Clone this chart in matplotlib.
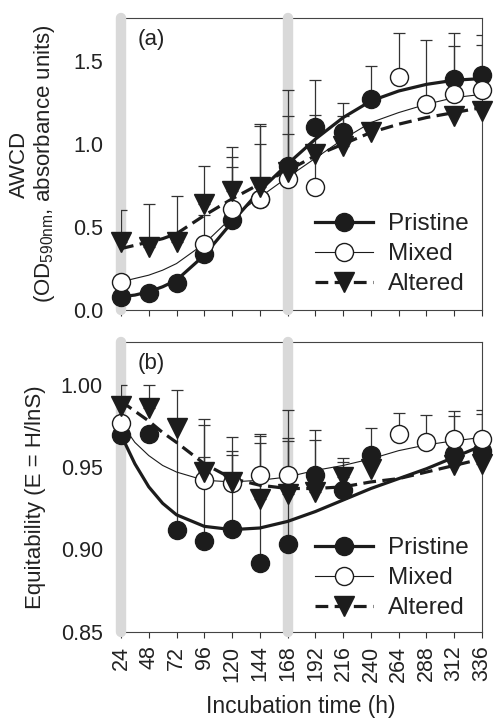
import numpy as np
import matplotlib
matplotlib.use('Agg')
import matplotlib.pyplot as plt
from matplotlib.lines import Line2D

plt.rcParams['font.family'] = ['Liberation Sans', 'DejaVu Sans']
plt.rcParams['font.size'] = 16

nan = np.nan
time_h = [24, 48, 72, 96, 120, 144, 168, 192, 216, 240, 264, 288, 312, 336]
series_names = ['Pristine', 'Mixed', 'Altered']

# Panel (a) AWCD
awcd_pristine = [0.08, 0.10, 0.16, 0.34, 0.54, 0.67, 0.87, 1.10, 1.07, 1.27, nan, nan, 1.395, 1.415]
awcd_mixed = [0.17, nan, nan, 0.40, 0.61, 0.67, 0.79, 0.74, nan, nan, 1.405, 1.24, 1.30, 1.325]
awcd_altered = [0.41, 0.38, 0.41, 0.64, 0.72, 0.74, 0.83, 0.94, 0.99, 1.07, nan, nan, 1.17, 1.20]
awcd_pristine_up = [nan, nan, nan, nan, 0.86, 1.11, 1.325, 1.385, 1.25, 1.47, nan, nan, 1.67, 1.66]
awcd_mixed_up = [nan, nan, nan, 0.57, 0.92, 1.00, 1.06, 1.175, nan, nan, 1.67, 1.63, 1.59, 1.60]
awcd_altered_up = [0.60, 0.64, 0.69, 0.87, 0.98, 1.12, 1.17, nan, 1.17, nan, nan, nan, nan, nan]

# Panel (b) Equitability
eq_pristine = [0.9696, 0.970, 0.9118, 0.9053, 0.9124, 0.892, 0.9033, 0.9453, 0.936, 0.9574, nan, nan, 0.958, 0.960]
eq_mixed = [0.9767, nan, nan, 0.9422, 0.9402, 0.9453, 0.9453, nan, nan, nan, 0.9702, 0.9655, 0.967, 0.967]
eq_altered = [0.987, 0.986, 0.974, 0.947, 0.9408, 0.9307, 0.9337, 0.935, 0.944, 0.949, nan, nan, 0.951, 0.952]
eq_pristine_up = [nan, nan, 0.9966, 0.979, 0.968, 0.9702, 0.9844, 0.9726, 0.9554, 0.9737, nan, nan, 0.9838, 0.9844]
eq_mixed_up = [nan, nan, nan, 0.9757, 0.9574, 0.9645, 0.966, nan, nan, nan, 0.9828, 0.9818, 0.9812, 0.9824]
eq_altered_up = [1.000, 1.000, nan, 0.9564, 0.9595, 0.9686, 0.9676, 0.9666, 0.9528, nan, nan, nan, 0.9629, 0.9629]

# Fitted curves
curve_t = [24, 36, 48, 60, 72, 96, 120, 144, 168, 192, 216, 240, 264, 288, 312, 336]
awcd_fit_pristine = [0.08, 0.09, 0.11, 0.14, 0.18, 0.33, 0.53, 0.72, 0.88, 1.03, 1.16, 1.26, 1.32, 1.36, 1.385, 1.395]
awcd_fit_mixed = [0.17, 0.19, 0.21, 0.24, 0.28, 0.40, 0.56, 0.68, 0.80, 0.915, 1.03, 1.13, 1.19, 1.24, 1.28, 1.30]
awcd_fit_altered = [0.37, 0.39, 0.41, 0.43, 0.46, 0.57, 0.67, 0.76, 0.84, 0.93, 1.00, 1.07, 1.12, 1.16, 1.19, 1.22]
eq_fit_pristine = [0.9696, 0.952, 0.938, 0.928, 0.921, 0.914, 0.912, 0.913, 0.917, 0.923, 0.930, 0.937, 0.943, 0.949, 0.956, 0.963]
eq_fit_mixed = [0.977, 0.965, 0.957, 0.951, 0.947, 0.942, 0.941, 0.942, 0.944, 0.948, 0.951, 0.955, 0.960, 0.9635, 0.966, 0.968]
eq_fit_altered = [0.990, 0.984, 0.978, 0.971, 0.965, 0.952, 0.943, 0.939, 0.937, 0.937, 0.938, 0.941, 0.943, 0.947, 0.951, 0.955]

phase_lines = [24, 168]
x_ticks = time_h

INK = '#1c1c1c'
TXT = '#222222'
styles = {
    'Pristine': dict(ls='-', lw=2.3, marker='o', mfc=INK, ms=13),
    'Mixed': dict(ls='-', lw=0.8, marker='o', mfc='white', ms=13),
    'Altered': dict(ls=(0, (4, 2)), lw=2.3, marker='v', mfc=INK, ms=15),
}

W, H = 494, 721
fig = plt.figure(figsize=(W / 100, H / 100), dpi=100)
axL, axR = 121, 482
ax1 = fig.add_axes([axL / W, 1 - 310 / H, (axR - axL) / W, 292 / H])
ax2 = fig.add_axes([axL / W, 1 - 631.7 / H, (axR - axL) / W, 289.7 / H])


def draw_panel(ax, vals, ups, fits, ylim, yticks, ylabels, tag, legend_anchor):
    x = np.array(time_h, dtype=float)
    for xv in phase_lines:
        ax.axvline(xv, color='#d9d9d9', lw=7.5, solid_capstyle='round',
                   zorder=2.6, clip_on=False)
    for name, v, u in zip(series_names, vals, ups):
        v = np.array(v, dtype=float)
        u = np.array(u, dtype=float)
        m = ~np.isnan(v) & ~np.isnan(u)
        ax.errorbar(x[m], v[m], yerr=[np.zeros(m.sum()), (u - v)[m]], fmt='none',
                    ecolor='#333333', elinewidth=0.9, capsize=4, capthick=0.9,
                    zorder=3)
    for k, (name, f) in enumerate(zip(series_names, fits)):
        st = styles[name]
        ax.plot(curve_t, f, color=INK, ls=st['ls'], lw=st['lw'], zorder=4 + k * 0.1,
                solid_capstyle='butt')
    for k, (name, v) in enumerate(zip(series_names, vals)):
        st = styles[name]
        ax.plot(time_h, v, ls='none', marker=st['marker'], ms=st['ms'],
                mfc=st['mfc'], mec=INK, mew=1.0, zorder=5 + k * 0.1, clip_on=False)
    ax.set_xlim(24, 336)
    ax.set_ylim(*ylim)
    ax.set_yticks(yticks)
    ax.set_yticklabels(ylabels)
    ax.set_xticks(x_ticks)
    ax.tick_params(axis='x', direction='out', length=4, width=0.8, color='#333333',
                   labelsize=15.5, labelcolor=TXT, pad=6, labelrotation=90)
    ax.tick_params(axis='y', length=0, pad=13, labelsize=15.5, labelcolor=TXT)
    ax.spines['left'].set_visible(False)
    for s in ['top', 'right', 'bottom']:
        ax.spines[s].set_color('#444444')
        ax.spines[s].set_linewidth(0.8)
    ax.text(0.045, 0.925, tag, transform=ax.transAxes, fontsize=16, color=TXT,
            ha='left', va='center')
    handles = []
    for name in series_names:
        st = styles[name]
        handles.append(Line2D([], [], color=INK, ls=st['ls'], lw=st['lw'],
                              marker=st['marker'], ms=st['ms'], mfc=st['mfc'],
                              mec=INK, mew=1.0))
    ax.legend(handles, series_names, loc='lower left', bbox_to_anchor=legend_anchor,
              frameon=False, fontsize=17.5, handlelength=2.4, handletextpad=0.6,
              labelspacing=0.33, borderpad=0, borderaxespad=0, labelcolor=TXT)


draw_panel(ax1, [awcd_pristine, awcd_mixed, awcd_altered],
           [awcd_pristine_up, awcd_mixed_up, awcd_altered_up],
           [awcd_fit_pristine, awcd_fit_mixed, awcd_fit_altered],
           (0, 1.76), [0.0, 0.5, 1.0, 1.5], ['0.0', '0.5', '1.0', '1.5'], '(a)',
           ((315 - axL) / (axR - axL), 0.05))
ax1.tick_params(axis='x', labelbottom=False)

draw_panel(ax2, [eq_pristine, eq_mixed, eq_altered],
           [eq_pristine_up, eq_mixed_up, eq_altered_up],
           [eq_fit_pristine, eq_fit_mixed, eq_fit_altered],
           (0.85, 1.026), [0.85, 0.90, 0.95, 1.00], ['0.85', '0.90', '0.95', '1.00'], '(b)',
           ((315 - axL) / (axR - axL), 0.043))

fig.text(33 / W, 1 - 164 / H, 'AWCD\n(OD$_{\\mathregular{590nm}}$, absorbance units)',
         rotation=90, ha='center', va='center', multialignment='center',
         fontsize=16, color=TXT, linespacing=1.15)
fig.text(36 / W, 1 - 497 / H, 'Equitability (E = H/lnS)', rotation=90,
         ha='center', va='center', fontsize=16, color=TXT)
fig.text(301 / W, 1 - 707 / H, 'Incubation time (h)', ha='center', va='center',
         fontsize=16.5, color=TXT)

fig.savefig('out.png', dpi=100)
